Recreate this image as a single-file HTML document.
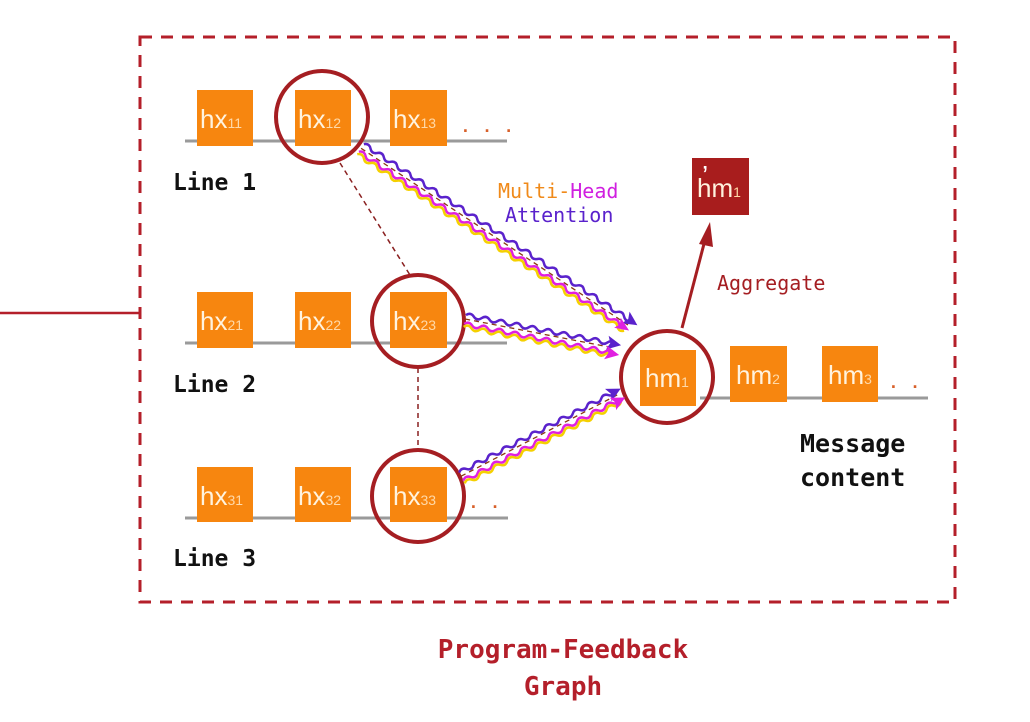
<!DOCTYPE html>
<html><head><meta charset="utf-8"><style>
html,body{margin:0;padding:0;background:#fff;}
svg{display:block;}
.bx{fill:#f7860f;}
.t{font-family:"Liberation Sans",sans-serif;fill:#fff3df;font-size:26px;}
.s{font-size:14px;fill:#ffd9a8;}
.m{font-family:"DejaVu Sans Mono","Liberation Mono",monospace;}
</style></head><body>
<svg width="1030" height="722" viewBox="0 0 1030 722" xmlns="http://www.w3.org/2000/svg">
<defs>
<path id="w40" d="M0,0 q4,-4 8,0 t8,0 t8,0 t8,0 t8,0 t8,0 t8,0 t8,0 t8,0 t8,0 t8,0 t8,0 t8,0 t8,0 t8,0 t8,0 t8,0 t8,0 t8,0 t8,0 t8,0 t8,0 t8,0 t8,0 t8,0 t8,0 t8,0 t8,0 t8,0 t8,0 t8,0 t8,0 t8,0 t8,0 t8,0 t8,0 t8,0 t8,0 t8,0 t8,0"/>
<path id="w19" d="M0,0 q4,-4 8,0 t8,0 t8,0 t8,0 t8,0 t8,0 t8,0 t8,0 t8,0 t8,0 t8,0 t8,0 t8,0 t8,0 t8,0 t8,0 t8,0 t8,0 t8,0"/>
<path id="w22" d="M0,0 q4,-4 8,0 t8,0 t8,0 t8,0 t8,0 t8,0 t8,0 t8,0 t8,0 t8,0 t8,0 t8,0 t8,0 t8,0 t8,0 t8,0 t8,0 t8,0 t8,0 t8,0 t8,0 t8,0"/>
</defs>
<rect x="140" y="37" width="815" height="565" fill="none" stroke="#b41f2a" stroke-width="3" stroke-dasharray="12,9"/>
<line x1="0" y1="313" x2="140" y2="313" stroke="#b41f2a" stroke-width="2.5"/>
<!-- rails -->
<g stroke="#9a9a9a" stroke-width="3">
<line x1="185" y1="141" x2="507" y2="141"/>
<line x1="185" y1="343" x2="507" y2="343"/>
<line x1="185" y1="518" x2="508" y2="518"/>
<line x1="700" y1="398" x2="928" y2="398"/>
</g>
<!-- dashed vertical links -->
<g stroke="#8a2020" stroke-width="1.5" stroke-dasharray="5,4" fill="none">
<line x1="340" y1="163" x2="410" y2="275"/>
<line x1="418" y1="368" x2="418" y2="449"/>
</g>
<!-- boxes -->
<g>
<rect class="bx" x="197" y="90" width="56" height="56"/>
<rect class="bx" x="295" y="90" width="56" height="56"/>
<rect class="bx" x="390" y="90" width="57" height="56"/>
<rect class="bx" x="197" y="292" width="56" height="56"/>
<rect class="bx" x="295" y="292" width="56" height="56"/>
<rect class="bx" x="390" y="292" width="57" height="56"/>
<rect class="bx" x="197" y="467" width="56" height="55"/>
<rect class="bx" x="295" y="467" width="56" height="55"/>
<rect class="bx" x="390" y="467" width="57" height="55"/>
<rect class="bx" x="640" y="350" width="56" height="56"/>
<rect class="bx" x="730" y="346" width="57" height="56"/>
<rect class="bx" x="822" y="346" width="56" height="56"/>
<rect x="692" y="158" width="57" height="57" fill="#a81d1d"/>
</g>
<g class="t">
<text x="200" y="128">hx<tspan class="s">11</tspan></text>
<text x="298" y="128">hx<tspan class="s">12</tspan></text>
<text x="393" y="128">hx<tspan class="s">13</tspan></text>
<text x="200" y="330">hx<tspan class="s">21</tspan></text>
<text x="298" y="330">hx<tspan class="s">22</tspan></text>
<text x="393" y="330">hx<tspan class="s">23</tspan></text>
<text x="200" y="505">hx<tspan class="s">31</tspan></text>
<text x="298" y="505">hx<tspan class="s">32</tspan></text>
<text x="393" y="505">hx<tspan class="s">33</tspan></text>
<text x="645" y="387">hm<tspan class="s">1</tspan></text>
<text x="736" y="384">hm<tspan class="s">2</tspan></text>
<text x="828" y="384">hm<tspan class="s">3</tspan></text>
<text x="697" y="197">hm<tspan class="s">1</tspan></text>
</g>
<text x="702" y="185" font-family="Liberation Sans,sans-serif" font-size="28" fill="#fff">’</text>
<g font-family="Liberation Mono,monospace" font-size="18" fill="#d8602a" font-weight="bold">
<text x="460" y="132">. . .</text>
<text x="468" y="508">. .</text>
<text x="888" y="388">. .</text>
</g>
<!-- circles -->
<g fill="none" stroke="#a51e22" stroke-width="4">
<circle cx="322" cy="117" r="46"/>
<circle cx="418" cy="321" r="46"/>
<circle cx="418" cy="496" r="46"/>
<circle cx="667" cy="377" r="46"/>
</g>
<!-- attention bundles -->
<g transform="translate(360,150) rotate(33.5)">
<use href="#w40" transform="translate(0,-7)" fill="none" stroke="#5a22cc" stroke-width="2.5"/>
<line x1="0" y1="-2" x2="320" y2="-2" stroke="#8a3a10" stroke-width="1.3" stroke-dasharray="5,4"/>
<use href="#w40" transform="translate(0,2)" fill="none" stroke="#e020e0" stroke-width="2.5"/>
<use href="#w40" transform="translate(0,5)" fill="none" stroke="#f5d000" stroke-width="2.5"/>
<polygon points="328,-7 314,-14 317,-7 314,0" fill="#5a22cc"/>
<polygon points="324,2 310,-4 313,2 310,8" fill="#e020e0"/>
</g>
<g transform="translate(465,320) rotate(11)">
<use href="#w19" transform="translate(0,-5)" fill="none" stroke="#5a22cc" stroke-width="2.5"/>
<line x1="0" y1="-1" x2="150" y2="-1" stroke="#8a3a10" stroke-width="1.3" stroke-dasharray="5,4"/>
<use href="#w19" transform="translate(0,4)" fill="none" stroke="#e020e0" stroke-width="2.5"/>
<use href="#w19" transform="translate(0,7)" fill="none" stroke="#f5d000" stroke-width="2.5"/>
<polygon points="158,-5 144,-12 147,-5 144,2" fill="#5a22cc"/>
<polygon points="158,5 144,-2 147,5 144,12" fill="#e020e0"/>
</g>
<g transform="translate(462,478) rotate(-27.5)">
<use href="#w22" transform="translate(0,-6)" fill="none" stroke="#5a22cc" stroke-width="2.5"/>
<line x1="0" y1="-2" x2="176" y2="-2" stroke="#8a3a10" stroke-width="1.3" stroke-dasharray="5,4"/>
<use href="#w22" transform="translate(0,3)" fill="none" stroke="#e020e0" stroke-width="2.5"/>
<use href="#w22" transform="translate(0,6)" fill="none" stroke="#f5d000" stroke-width="2.5"/>
<polygon points="182,-6 168,-13 171,-6 168,1" fill="#5a22cc"/>
<polygon points="182,4 168,-3 171,4 168,11" fill="#e020e0"/>
</g>
<!-- aggregate arrow -->
<line x1="682" y1="328" x2="705" y2="240" stroke="#a51e22" stroke-width="3"/>
<polygon points="710,222 699,244 713,247" fill="#a51e22"/>
<!-- labels -->
<g class="m" font-weight="bold" fill="#111">
<text x="173" y="190" font-size="23">Line 1</text>
<text x="173" y="392" font-size="23">Line 2</text>
<text x="173" y="566" font-size="23">Line 3</text>
<text x="800" y="452" font-size="25">Message</text>
<text x="800" y="486" font-size="25">content</text>
</g>
<g class="m" font-size="20">
<text x="498" y="198"><tspan fill="#f08a1a">Multi-</tspan><tspan fill="#d020e0">Head</tspan></text>
<text x="505" y="222" fill="#5a22cc">Attention</text>
<text x="717" y="290" fill="#a51e22">Aggregate</text>
</g>
<g class="m" font-size="26" font-weight="bold" fill="#b41f2a" text-anchor="middle">
<text x="563" y="658">Program-Feedback</text>
<text x="563" y="695">Graph</text>
</g>
</svg>
</body></html>
